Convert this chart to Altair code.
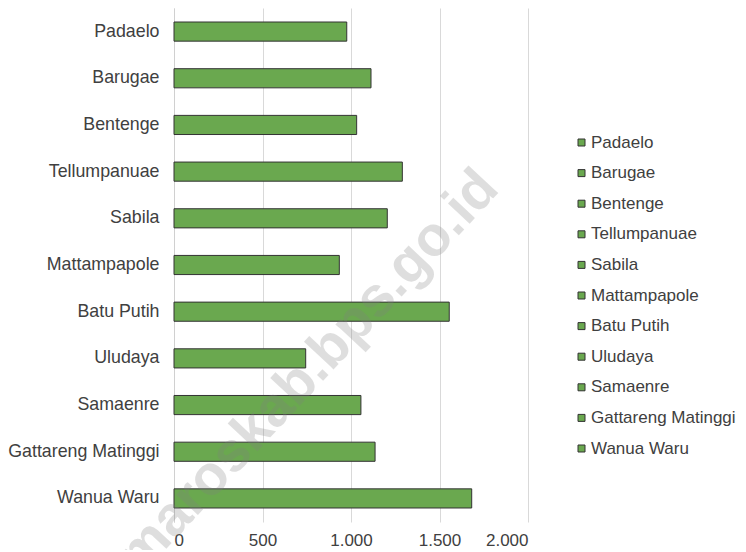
import altair as alt
import pandas as pd

categories = ["Padaelo", "Barugae", "Bentenge", "Tellumpanuae", "Sabila",
              "Mattampapole", "Batu Putih", "Uludaya", "Samaenre",
              "Gattareng Matinggi", "Wanua Waru"]
values = [976, 1113, 1032, 1290, 1205, 934, 1555, 744, 1056, 1136, 1682]
x_ticks = [0, 500, 1000, 1500, 2000]
watermark = ["maroskab.bps.go.id"]

GREEN = "#6aa84f"
FONT = "Liberation Sans"
TXT = "#404040"

df = pd.DataFrame({"Desa": categories, "Jumlah": values})

bars = alt.Chart(df).mark_bar(stroke="#333333", strokeWidth=1).encode(
    y=alt.Y("Desa:N", sort=categories, title=None,
            scale=alt.Scale(paddingInner=0.59, paddingOuter=0.3),
            axis=alt.Axis(ticks=False, domain=True, domainColor="#d0d0d0",
                          labelFontSize=17.8, labelFont=FONT, labelColor=TXT,
                          labelPadding=15, grid=False)),
    x=alt.X("Jumlah:Q", title=None,
            scale=alt.Scale(domain=[0, 2000], nice=False),
            axis=alt.Axis(values=x_ticks, ticks=False, domain=False,
                          grid=True, gridColor="#d9d9d9",
                          labelFontSize=17, labelFont=FONT, labelColor=TXT,
                          labelPadding=10,
                          labelExpr="replace(format(datum.value, ','), ',', '.')")),
    color=alt.Color("Desa:N", title=None,
                    scale=alt.Scale(domain=categories, range=[GREEN] * len(categories)),
                    legend=alt.Legend(orient="none", legendX=399, legendY=126,
                                      symbolType="square", symbolSize=49,
                                      symbolStrokeColor="#333333", symbolStrokeWidth=1,
                                      symbolFillColor=GREEN,
                                      labelFontSize=17, labelFont=FONT, labelColor=TXT,
                                      labelOffset=1, rowPadding=12.6,
                                      labelLimit=300)),
)

wm = alt.Chart(pd.DataFrame({"t": watermark})).mark_text(
    font=FONT, fontSize=56, fontWeight="bold", angle=313,
    align="center", baseline="middle", color="#808080", opacity=0.25,
).encode(text="t:N", x=alt.value(134), y=alt.value(364))

chart = alt.layer(bars, wm).properties(
    width=354, height=514,
    autosize=alt.AutoSizeParams(type="none"),
    padding={"left": 166, "top": 0, "right": 210, "bottom": 28},
).configure_view(stroke=None)

chart.save("out.html", embed_options={"renderer": "svg", "actions": False})
